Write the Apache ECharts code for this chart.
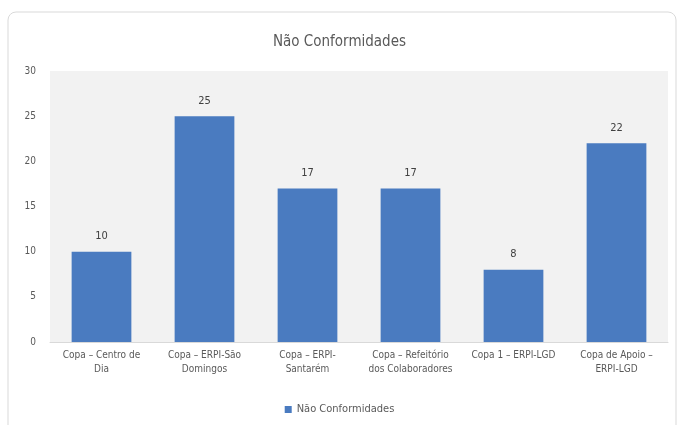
<!DOCTYPE html>
<html><head><meta charset="utf-8">
<script src="https://cdn.jsdelivr.net/npm/echarts@6/dist/echarts.min.js"></script>
<style>html,body{margin:0;padding:0;background:#fff}#c{width:679px;height:425px}</style>
</head><body><div id="c"></div>
<script>
const categories = ["Copa – Centro de\nDia", "Copa – ERPI-São\nDomingos", "Copa – ERPI-\nSantarém", "Copa – Refeitório\ndos Colaboradores", "Copa 1 – ERPI-LGD", "Copa de Apoio –\nERPI-LGD"];
const values = [10, 25, 17, 17, 8, 22];
const seriesName = "Não Conformidades";
const titleText = "Não Conformidades";
const yTicks = [0, 5, 10, 15, 20, 25, 30];

const font = '"Liberation Sans Narrow", "DejaVu Sans Condensed", "Open Sans", sans-serif';
const chart = echarts.init(document.getElementById('c'));
chart.setOption({
  animation: false,
  textStyle: {fontFamily: font},
  graphic: [{type: 'rect', shape: {x: 8, y: 12, width: 668, height: 430, r: 8},
    style: {fill: 'none', stroke: '#d9d9d9', lineWidth: 1}, silent: true, z: -1}],
  title: {text: titleText, left: 'center', top: 30,
    textStyle: {fontFamily: font, fontSize: 15, fontWeight: 'normal', color: '#595959'}},
  legend: {bottom: 5, left: 'center', itemWidth: 7, itemHeight: 7, icon: 'rect',
    textStyle: {fontFamily: font, fontSize: 11, color: '#595959'}, data: [seriesName]},
  grid: {left: 50, right: 11, top: 71, bottom: 83, show: true, backgroundColor: '#f2f2f2', borderWidth: 0},
  xAxis: {type: 'category', data: categories,
    axisLine: {show: true, lineStyle: {color: '#d9d9d9'}}, axisTick: {show: false},
    axisLabel: {interval: 0, fontFamily: font, fontSize: 10, color: '#595959', lineHeight: 14, margin: 6}},
  yAxis: {type: 'value', min: yTicks[0], max: yTicks[yTicks.length - 1], interval: 5,
    axisLine: {show: false}, axisTick: {show: false}, splitLine: {show: false},
    axisLabel: {fontFamily: font, fontSize: 10, color: '#595959', margin: 14}},
  series: [{name: seriesName, type: 'bar', data: values, barWidth: '58%',
    itemStyle: {color: '#4a7bc0'},
    label: {show: true, position: 'top', distance: 10, fontFamily: font, fontSize: 11, color: '#404040'}}]
});
</script></body></html>
